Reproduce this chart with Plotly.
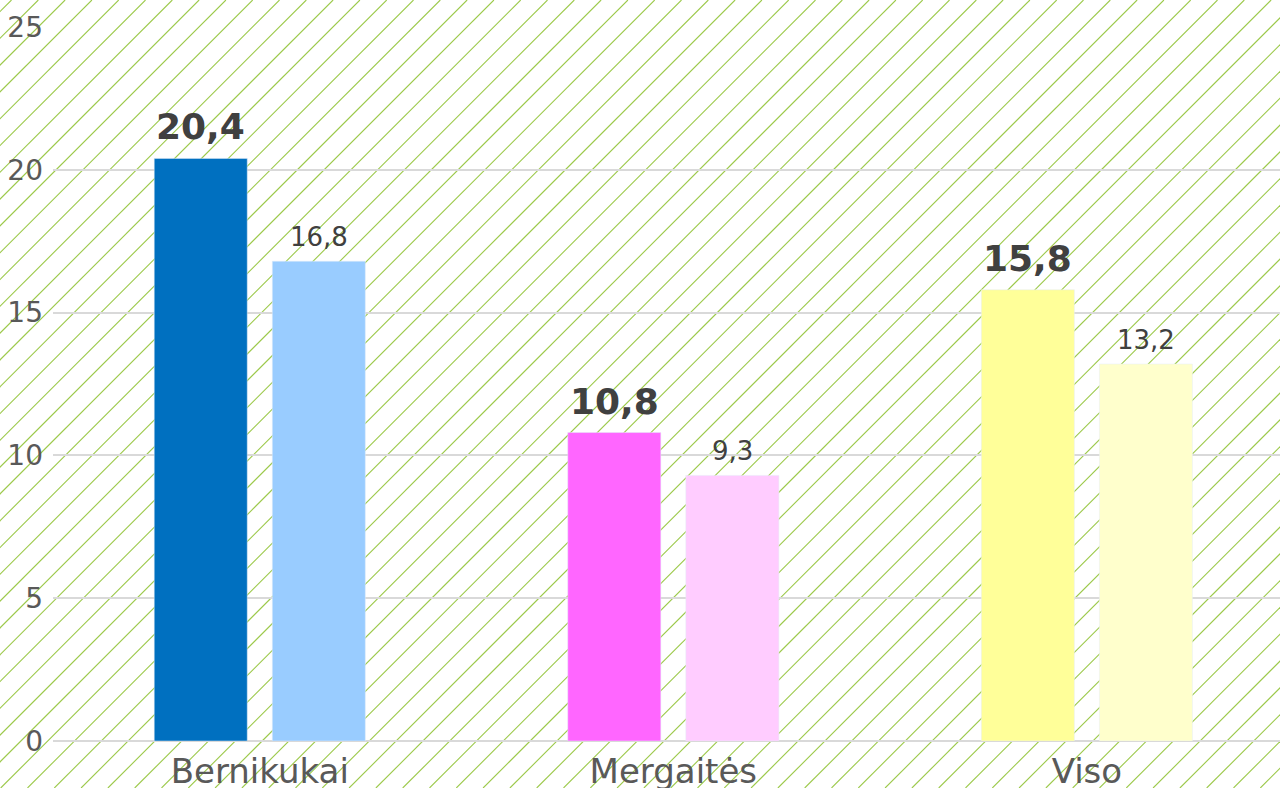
import plotly.graph_objects as go

grupes = ['Bernikukai', 'Mergaitės', 'Viso']
dabar = [20.4, 10.8, 15.8]
anksciau = [16.8, 9.3, 13.2]
spalvos_dabar = ['#0070C0', '#FF66FF', '#FFFF99']
spalvos_anksciau = ['#99CCFF', '#FFCCFF', '#FFFFCC']

W, H = 1280, 788
L, R, T, B = 53, 0, 27, 47
pw, ph = W - L - R, H - T - B
BARGAP = 0.429


def fmt(v):
    return f'{v:.1f}'.replace('.', ',')


fig = go.Figure()
fig.add_trace(go.Bar(x=grupes, y=dabar, marker_color=spalvos_dabar, hoverinfo='x+y'))
fig.add_trace(go.Bar(x=grupes, y=anksciau, marker_color=spalvos_anksciau, hoverinfo='x+y'))

# reiksmiu uzrasai virs stulpeliu
poslinkis = (1 - BARGAP) / 4
annotations = []
for i in range(len(grupes)):
    annotations.append(dict(
        x=i - poslinkis, y=dabar[i], xref='x', yref='y', text=fmt(dabar[i]),
        showarrow=False, yanchor='bottom', yshift=9,
        font=dict(family='DejaVu Sans', size=36, color='#404040', weight='bold'),
    ))
    annotations.append(dict(
        x=i + poslinkis, y=anksciau[i], xref='x', yref='y', text=fmt(anksciau[i]),
        showarrow=False, yanchor='bottom', yshift=7,
        font=dict(family='DejaVu Sans', size=26, color='#404040'),
    ))

# istrizas fonas (45 laipsniu linijos per visa puslapi)
shapes = []
step = 26.8
c = 440.3 - step * 60
while c < W + H + step:
    if c > 0:
        x0, y0 = c - H, H
        x1, y1 = c, 0
        shapes.append(dict(
            type='line', xref='paper', yref='paper', layer='below',
            x0=(x0 - L) / pw, y0=(T + ph - y0) / ph,
            x1=(x1 - L) / pw, y1=(T + ph - y1) / ph,
            line=dict(color='#9CC94A', width=1.1),
        ))
    c += step

fig.update_layout(
    width=W, height=H,
    margin=dict(l=L, r=R, t=T, b=B),
    paper_bgcolor='white', plot_bgcolor='rgba(0,0,0,0)',
    barmode='group', bargap=BARGAP, bargroupgap=0.212,
    showlegend=False,
    shapes=shapes,
    annotations=annotations,
    font=dict(family='DejaVu Sans', color='#595959'),
    xaxis=dict(range=[-0.5, 2.467], showgrid=False, showline=False, ticks='',
               tickfont=dict(size=34, color='#595959'), ticklabelstandoff=7,
               automargin=False),
    yaxis=dict(range=[0, 25], dtick=5, gridcolor='#D9D9D9', gridwidth=2,
               zeroline=True, zerolinecolor='#D9D9D9', zerolinewidth=2,
               showline=False, ticks='', tickfont=dict(size=28, color='#595959'),
               ticklabelstandoff=9, automargin=False),
)

fig.write_html('out.html', config={'displayModeBar': False},
               post_script="document.body.style.margin='0';")
